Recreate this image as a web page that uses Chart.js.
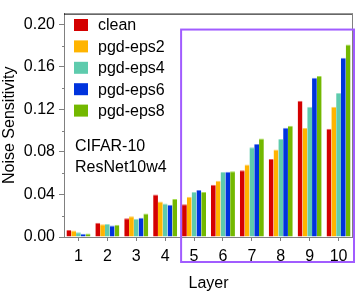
<!DOCTYPE html>
<html>
<head>
<meta charset="utf-8">
<script src="https://cdn.jsdelivr.net/npm/chart.js@4/dist/chart.umd.min.js"></script>
<style>
  html, body { margin: 0; padding: 0; background: #fff; }
  #wrap { width: 357px; height: 293px; }
</style>
</head>
<body>
<div id="wrap"><canvas id="c" width="357" height="293"></canvas></div>
<script>
// values
var layers = ["1","2","3","4","5","6","7","8","9","10"];
var cleanVals = [0.0066, 0.0135, 0.0177, 0.0400, 0.0309, 0.0490, 0.0628, 0.0733, 0.1280, 0.1018];
var eps2Vals  = [0.0062, 0.0120, 0.0195, 0.0333, 0.0378, 0.0529, 0.0682, 0.0823, 0.1024, 0.1225];
var eps4Vals  = [0.0045, 0.0123, 0.0171, 0.0315, 0.0423, 0.0610, 0.0844, 0.0922, 0.1225, 0.1354];
var eps6Vals  = [0.0030, 0.0108, 0.0180, 0.0303, 0.0441, 0.0613, 0.0874, 0.1027, 0.1498, 0.1685];
var eps8Vals  = [0.0033, 0.0114, 0.0222, 0.0357, 0.0423, 0.0619, 0.0925, 0.1045, 0.1514, 0.1810];
var seriesNames = ["clean","pgd-eps2","pgd-eps4","pgd-eps6","pgd-eps8"];
var yMajor = [0, 0.04, 0.08, 0.12, 0.16, 0.20];
var yMinor = [0.02, 0.06, 0.10, 0.14, 0.18];
var noteLines = ["CIFAR-10", "ResNet10w4"];

var colors = ["#d40000","#ffb400","#5ecbad","#0033dd","#73b800"];
var tops   = ["#e86060","#ffd060","#9be0cc","#6a85f0","#a8dd55"];
var FONT = "Liberation Sans, Arial, sans-serif";

function ds(i, vals) {
  return {
    label: seriesNames[i], data: vals,
    backgroundColor: colors[i], borderColor: tops[i],
    borderWidth: {top: 1, left: 0, right: 0, bottom: 0},
    borderSkipped: false,
    categoryPercentage: 0.83, barPercentage: 1.0
  };
}

var decor = {
  id: "decor",
  afterDraw: function(chart) {
    var ctx = chart.ctx, a = chart.chartArea;
    var x = chart.scales.x, y = chart.scales.y;
    ctx.save();
    // frame: top black, right gray
    ctx.lineWidth = 1;
    ctx.strokeStyle = "#000";
    ctx.beginPath(); ctx.moveTo(a.left, a.top + 0.5); ctx.lineTo(a.right, a.top + 0.5); ctx.stroke();
    ctx.strokeStyle = "#808080";
    ctx.beginPath(); ctx.moveTo(a.right - 0.5, a.top); ctx.lineTo(a.right - 0.5, a.bottom); ctx.stroke();
    // minor y ticks
    yMinor.forEach(function(v) {
      var py = Math.round(y.getPixelForValue(v)) + 0.5;
      ctx.beginPath(); ctx.moveTo(a.left - 2, py); ctx.lineTo(a.left, py); ctx.stroke();
    });
    // legend
    ctx.font = "16px " + FONT;
    ctx.textBaseline = "middle";
    ctx.fillStyle = "#000";
    for (var i = 0; i < seriesNames.length; i++) {
      var cy = 25 + i * 21.4;
      ctx.fillStyle = colors[i];
      ctx.fillRect(74, cy - 6, 14, 12);
      ctx.fillStyle = "#000";
      ctx.fillText(seriesNames[i], 98, cy + 1);
    }
    // note
    ctx.fillText(noteLines[0], 75, 147);
    ctx.fillText(noteLines[1], 75, 168);
    // highlight box around layers 5-10
    var bx = x.getPixelForValue(3.5) + 1.5;
    var by = y.getPixelForValue(0.195);
    ctx.strokeStyle = "#a15cff";
    ctx.lineWidth = 2;
    ctx.strokeRect(bx, by, a.right + 1 - bx, a.bottom + 25 - by);
    ctx.restore();
  }
};

new Chart(document.getElementById("c"), {
  type: "bar",
  data: {
    labels: layers,
    datasets: [ds(0, cleanVals), ds(1, eps2Vals), ds(2, eps4Vals), ds(3, eps6Vals), ds(4, eps8Vals)]
  },
  options: {
    responsive: false,
    animation: false,
    layout: { padding: { top: 4, right: 4, left: 0, bottom: 0 } },
    plugins: { legend: { display: false }, tooltip: { enabled: false } },
    scales: {
      x: {
        grid: { display: true, drawOnChartArea: false, offset: false, tickLength: 4, color: "#808080" },
        border: { color: "#808080" },
        ticks: { color: "#000", font: { family: FONT, size: 16 }, padding: 6, maxRotation: 0 },
        title: { display: true, text: "Layer", color: "#000", font: { family: FONT, size: 16 }, padding: { top: 0, bottom: 0 } },
        afterFit: function(s) { s.height = 56; }
      },
      y: {
        min: 0, max: 0.21,
        grid: { display: true, drawOnChartArea: false, tickLength: 5, color: "#808080" },
        border: { color: "#808080" },
        afterBuildTicks: function(s) { s.ticks = yMajor.map(function(v) { return { value: v }; }); },
        ticks: {
          color: "#000", font: { family: FONT, size: 16 }, padding: 4,
          callback: function(v) { return Number(v).toFixed(2); }
        },
        title: { display: true, text: "Noise Sensitivity", color: "#000", font: { family: FONT, size: 16 }, padding: { top: 0, bottom: 0 } },
        afterFit: function(s) { s.width = 64; }
      }
    }
  },
  plugins: [decor]
});
</script>
</body>
</html>
